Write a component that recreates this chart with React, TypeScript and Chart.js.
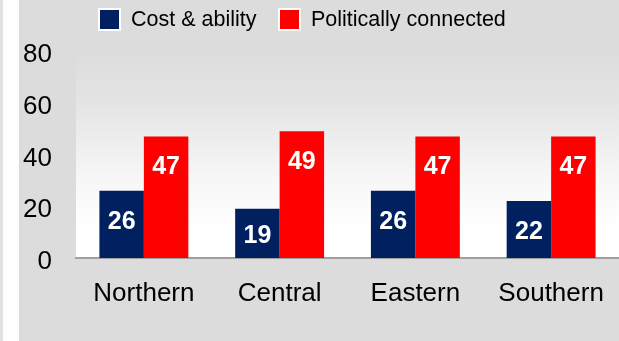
import React, { useEffect, useRef } from "react";
import { Chart, registerables } from "chart.js";

Chart.register(...registerables);

const categories = ["Northern", "Central", "Eastern", "Southern"];
const costAbility = [26, 19, 26, 22];
const politicallyConnected = [47, 49, 47, 47];
const seriesNames = ["Cost & ability", "Politically connected"];
const seriesColors = ["#002060", "#ff0000"];
const yTicks = [0, 20, 40, 60, 80];

const FONT = '"Liberation Sans", Arial, Helvetica, sans-serif';

const plotBgPlugin = {
  id: "plotBg",
  beforeDraw(chart: any) {
    const { ctx, chartArea } = chart;
    if (!chartArea) return;
    const g = ctx.createLinearGradient(0, chartArea.top, 0, chartArea.bottom);
    g.addColorStop(0, "#dcdcdc");
    g.addColorStop(0.25, "#e4e4e4");
    g.addColorStop(0.6, "#f6f6f6");
    g.addColorStop(0.85, "#ffffff");
    g.addColorStop(1, "#ffffff");
    ctx.save();
    ctx.fillStyle = g;
    ctx.fillRect(chartArea.left, chartArea.top, chartArea.right - chartArea.left, chartArea.bottom - chartArea.top);
    ctx.restore();
  },
};

const valueLabelPlugin = {
  id: "valueLabels",
  afterDatasetsDraw(chart: any) {
    const { ctx } = chart;
    ctx.save();
    ctx.fillStyle = "#ffffff";
    ctx.font = `bold 25px ${FONT}`;
    ctx.textAlign = "center";
    ctx.textBaseline = "middle";
    chart.data.datasets.forEach((ds: any, di: number) => {
      const meta = chart.getDatasetMeta(di);
      meta.data.forEach((bar: any, i: number) => {
        const top = bar.y;
        const base = bar.base;
        const y = Math.min(top + 28, (top + base) / 2) + 3;
        ctx.fillText(String(ds.data[i]), bar.x, y);
      });
    });
    ctx.restore();
  },
};

export default function App() {
  const canvasRef = useRef<HTMLCanvasElement | null>(null);

  useEffect(() => {
    document.body.style.margin = "0";
    const canvas = canvasRef.current;
    if (!canvas) return;
    const chart = new Chart(canvas, {
      type: "bar",
      data: {
        labels: categories,
        datasets: [
          {
            label: seriesNames[0],
            data: costAbility,
            backgroundColor: seriesColors[0],
            borderWidth: 0,
            categoryPercentage: 0.655,
            barPercentage: 1,
          },
          {
            label: seriesNames[1],
            data: politicallyConnected,
            backgroundColor: seriesColors[1],
            borderWidth: 0,
            categoryPercentage: 0.655,
            barPercentage: 1,
          },
        ],
      },
      options: {
        animation: false,
        responsive: false,
        maintainAspectRatio: false,
        layout: { padding: { top: 51, left: 0, right: 0, bottom: 0 } },
        plugins: {
          legend: { display: false },
          tooltip: { enabled: false },
        },
        scales: {
          x: {
            grid: { display: false, drawTicks: false },
            border: { display: true, color: "#a0a0a0", width: 2 },
            ticks: {
              color: "#000",
              font: { family: FONT, size: 26 },
              padding: 20,
              maxRotation: 0,
              autoSkip: false,
            },
            afterFit(scale: any) {
              scale.height = 83;
              scale.paddingLeft = 0;
              scale.paddingRight = 0;
            },
          },
          y: {
            min: 0,
            max: 80,
            afterBuildTicks(scale: any) {
              scale.ticks = yTicks.map((v) => ({ value: v }));
            },
            grid: { display: false, drawTicks: false },
            border: { display: false },
            ticks: {
              color: "#000",
              font: { family: FONT, size: 26 },
              padding: 24,
              labelOffset: 4,
            },
            afterFit(scale: any) {
              scale.width = 57;
              scale.paddingTop = 0;
              scale.paddingBottom = 0;
            },
          },
        },
      },
      plugins: [plotBgPlugin, valueLabelPlugin],
    });
    return () => chart.destroy();
  }, []);

  const legendText: React.CSSProperties = {
    fontFamily: FONT,
    fontSize: 21.5,
    lineHeight: "23px",
    color: "#000",
    whiteSpace: "nowrap",
  };
  const box = (c: string): React.CSSProperties => ({
    width: 23,
    height: 23,
    boxSizing: "border-box",
    border: "2px solid #ffffff",
    background: c,
    marginRight: 10,
    flex: "none",
  });

  return (
    <div style={{ position: "relative", width: 619, height: 341, background: "#dcdcdc", overflow: "hidden" }}>
      <div style={{ position: "absolute", left: 0, top: 0, width: 3, height: 341, background: "#e2e2e2" }} />
      <div style={{ position: "absolute", left: 3, top: 0, width: 16, height: 341, background: "#ffffff" }} />
      <canvas
        ref={canvasRef}
        width={600}
        height={341}
        style={{ position: "absolute", left: 19, top: 0, width: 600, height: 341 }}
      />
      <div style={{ position: "absolute", left: 98, top: 8, display: "flex", alignItems: "center" }}>
        <div style={box(seriesColors[0])} />
        <span style={legendText}>{seriesNames[0]}</span>
      </div>
      <div style={{ position: "absolute", left: 278, top: 8, display: "flex", alignItems: "center" }}>
        <div style={box(seriesColors[1])} />
        <span style={legendText}>{seriesNames[1]}</span>
      </div>
    </div>
  );
}
